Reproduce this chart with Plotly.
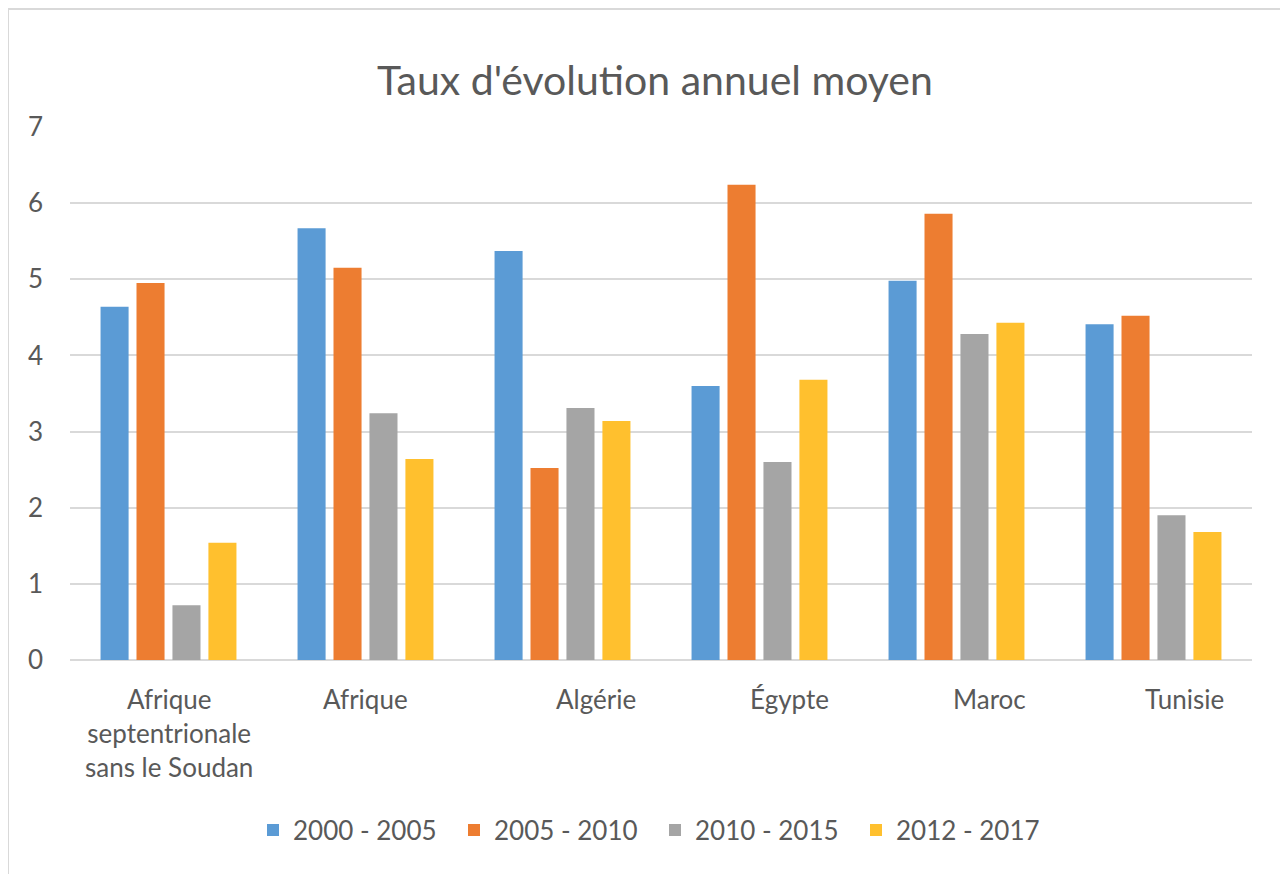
import plotly.graph_objects as go

categories = ["Afrique<br>septentrionale<br>sans le Soudan", "Afrique", "Algérie", "Égypte", "Maroc", "Tunisie"]
series_names = ["2000 - 2005", "2005 - 2010", "2010 - 2015", "2012 - 2017"]
v_2000_2005 = [4.64, 5.67, 5.37, 3.60, 4.98, 4.41]
v_2005_2010 = [4.95, 5.15, 2.52, 6.24, 5.86, 4.52]
v_2010_2015 = [0.72, 3.24, 3.31, 2.60, 4.28, 1.90]
v_2012_2017 = [1.54, 2.64, 3.14, 3.68, 4.43, 1.68]
y_ticks = [0, 1, 2, 3, 4, 5, 6, 7]

series_values = [v_2000_2005, v_2005_2010, v_2010_2015, v_2012_2017]
colors = ["#5B9BD5", "#ED7D31", "#A5A5A5", "#FFC02E"]
label_xshift = [0, 0, 33, 30, 33, 31]

FONT = "Lato"
TXT = "#595959"
FS = 26

# page is offset by the 8px body margin
OFF = 8
W, H = 1280, 866
ml, mr, mt, mb = 62, 36, 119, 214
pw, ph = W - ml - mr, H - mt - mb
def px_x(p):
    return (p - OFF - ml) / pw
def px_y(p):
    return (H - mb - (p - OFF)) / ph

fig = go.Figure()
for name, vals, col in zip(series_names, series_values, colors):
    fig.add_trace(go.Bar(x=categories, y=vals, name=name, marker=dict(color=col, line=dict(width=0))))

for cat, dx in zip(categories, label_xshift):
    fig.add_annotation(x=cat, y=0, xref="x", yref="y", text=cat, showarrow=False,
                       yanchor="top", xanchor="center", yshift=-21, xshift=dx,
                       font=dict(family=FONT, size=FS, color=TXT), align="center")

fig.add_shape(type="rect", xref="paper", yref="paper",
              x0=px_x(8), x1=px_x(1285), y0=px_y(895), y1=px_y(9),
              line=dict(color="#D9D9D9", width=2), fillcolor="rgba(0,0,0,0)", layer="below")

fig.update_layout(
    width=W, height=H,
    margin=dict(l=ml, r=mr, t=mt, b=mb),
    paper_bgcolor="white", plot_bgcolor="white",
    title=dict(text="Taux d'évolution annuel moyen", xref="container", x=(655 - OFF) / W, xanchor="center",
               yref="container", y=1 - (81 - OFF) / H, yanchor="middle",
               font=dict(family=FONT, size=41, color=TXT)),
    barmode="group", bargap=0.27, bargroupgap=0.22,
    font=dict(family=FONT, size=FS, color=TXT),
    showlegend=True,
    legend=dict(orientation="h", x=px_x(655), xanchor="center", y=px_y(830), yanchor="middle",
                font=dict(family=FONT, size=FS, color=TXT), traceorder="normal",
                itemwidth=30, entrywidth=156, entrywidthmode="pixels"),
    xaxis=dict(showticklabels=False, showline=False, ticks="", showgrid=False,
               zeroline=False),
    yaxis=dict(range=[0, 7], tickvals=y_ticks, showgrid=True, gridcolor="#D9D9D9", gridwidth=2,
               zeroline=True, zerolinecolor="#D9D9D9", zerolinewidth=2,
               showline=False, ticks="", ticklabelstandoff=26,
               tickfont=dict(family=FONT, size=FS, color=TXT)),
)

fig.write_html("out.html")
